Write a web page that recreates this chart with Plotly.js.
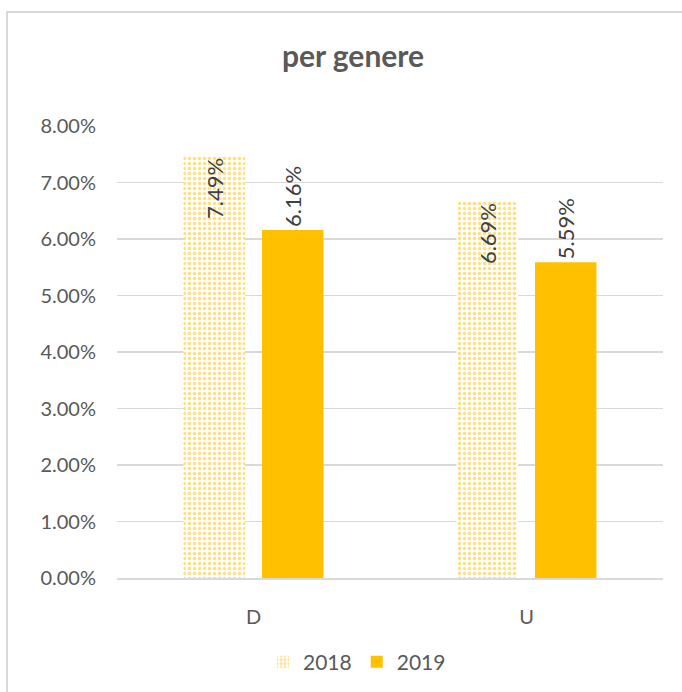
<!DOCTYPE html>
<html>
<head>
<meta charset="utf-8">
<script src="https://cdn.plot.ly/plotly-3.0.1.min.js"></script>
<style>
html,body{margin:0;padding:0;background:#fff;overflow:hidden;}
#frame{position:absolute;left:6px;top:11px;width:700px;height:700px;border-left:2px solid #d9d9d9;border-top:2px solid #d9d9d9;box-sizing:border-box;}
#chart{position:absolute;left:6px;top:11px;width:676px;height:681px;}
</style>
</head>
<body>
<div id="frame"></div>
<div id="chart"></div>
<script>
var categories = ["D", "U"];
var series2018 = [0.0749, 0.0669];
var series2019 = [0.0616, 0.0559];
var seriesNames = ["2018", "2019"];
var yTickVals = [0, 0.01, 0.02, 0.03, 0.04, 0.05, 0.06, 0.07, 0.08];

function pct(v){ return (v*100).toFixed(2) + "%"; }

var FONT = "Lato, 'Open Sans', sans-serif";
var gold = "#FFC000";

var t1 = {
  type: "bar", name: seriesNames[0], x: categories, y: series2018,
  text: series2018.map(pct), textposition: "inside", insidetextanchor: "end",
  textangle: -90, constraintext: "none",
  insidetextfont: {family: FONT, size: 22, color: "#404040"},
  marker: {color: "#ffffff", line: {width: 0},
    pattern: {shape: ".", fgcolor: gold, bgcolor: "#ffffff", size: 5, solidity: 0.4, fillmode: "overlay"}},
  hoverinfo: "skip", cliponaxis: false
};
var t2 = {
  type: "bar", name: seriesNames[1], x: categories, y: series2019,
  text: series2019.map(pct), textposition: "outside",
  textangle: -90, constraintext: "none",
  outsidetextfont: {family: FONT, size: 22, color: "#404040"},
  marker: {color: gold, line: {width: 0}},
  hoverinfo: "skip", cliponaxis: false
};

var layout = {
  width: 676, height: 681,
  margin: {l: 111, r: 19, t: 115, b: 114},
  paper_bgcolor: "rgba(0,0,0,0)", plot_bgcolor: "rgba(0,0,0,0)",
  font: {family: FONT, color: "#595959", size: 19},
  barmode: "group", bargap: 0.425, bargroupgap: 0.217,
  title: {text: "<b>per genere</b>", font: {family: FONT, size: 30, color: "#595959"},
    xref: "container", yref: "container", x: (353-6)/676, xanchor: "center", y: 1-(56-11)/681, yanchor: "middle"},
  xaxis: {type: "category", showgrid: false, showline: true, linecolor: "#d9d9d9", linewidth: 2,
    ticks: "", ticklabelstandoff: 20, tickfont: {family: FONT, size: 20, color: "#595959"}, fixedrange: true},
  yaxis: {range: [0, 0.08], tickvals: yTickVals, ticktext: yTickVals.map(pct),
    showgrid: true, gridcolor: "#d9d9d9", gridwidth: 1.5, zeroline: false, showline: false,
    ticks: "", ticklabelstandoff: 20, tickfont: {family: FONT, size: 20, color: "#595959"}, fixedrange: true},
  showlegend: true,
  legend: {orientation: "h", xref: "container", yref: "container", x: (357-6)/676, xanchor: "center",
    y: 1-(662-11)/681, yanchor: "middle", font: {family: FONT, size: 21, color: "#595959"},
    itemwidth: 30, traceorder: "normal"}
};

Plotly.newPlot("chart", [t1, t2], layout, {displayModeBar: false, staticPlot: true});
</script>
</body>
</html>
